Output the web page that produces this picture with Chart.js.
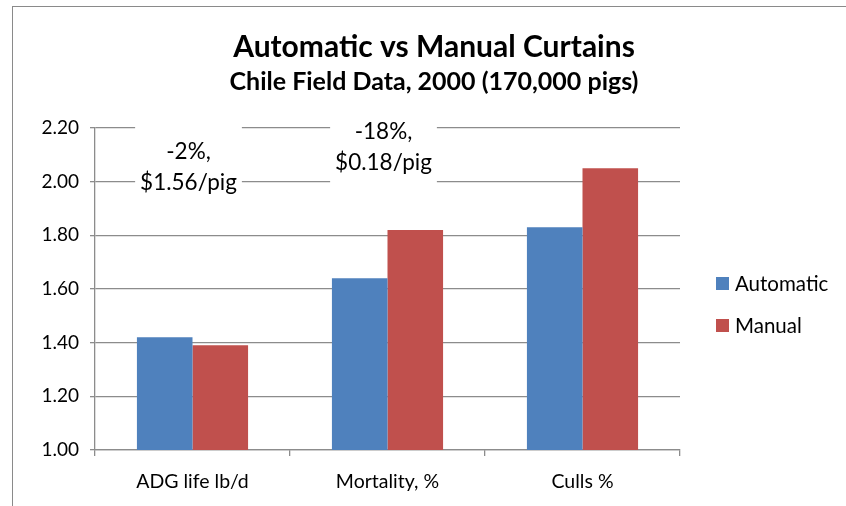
<!DOCTYPE html>
<html>
<head>
<meta charset="utf-8">
<script src="https://cdn.jsdelivr.net/npm/chart.js@4.4.1/dist/chart.umd.min.js"></script>
<style>
    html, body { margin: 0; padding: 0; background: #fff; overflow: hidden; }
    #moldura {
        position: absolute; left: 12px; top: 6px; width: 860px; height: 520px;
        border-left: 1px solid #8a8a8a; border-top: 1px solid #8a8a8a;
    }
    #grafico { position: absolute; left: 0; top: 0; }
</style>
</head>
<body>
<div id="moldura">
    <canvas id="grafico" width="842" height="500"></canvas>
</div>
<script>
const categorias = ['ADG life lb/d', 'Mortality, %', 'Culls %'];
const automatico = [1.42, 1.64, 1.83];
const manual = [1.39, 1.82, 2.05];
const eixoMin = 1.0;
const eixoMax = 2.2;
const eixoPasso = 0.2;
const notas = [['-2%,', '$1.56/pig'], ['-18%,', '$0.18/pig']];

const corAzul = '#4f81bd';
const corVermelha = '#c0504d';
const corGrade = '#8c8c8c';

Chart.defaults.font.family = 'Lato';
Chart.defaults.color = '#000';

// caixas de texto brancas sobre a grade
const notasPlugin = {
    id: 'notas',
    afterDatasetsDraw(chart) {
        const { ctx, scales: { x, y } } = chart;
        const alturas = [2.11, 2.185];
        ctx.save();
        ctx.font = '22.5px Lato';
        ctx.textAlign = 'center';
        ctx.textBaseline = 'middle';
        notas.forEach((linhas, i) => {
            const cx = x.getPixelForValue(i) - 4;
            const cy = y.getPixelForValue(alturas[i]);
            const larg = Math.max(...linhas.map(l => ctx.measureText(l).width));
            const passo = 30.5;
            ctx.fillStyle = '#fff';
            ctx.fillRect(cx - larg / 2 - 5, cy - 26, larg + 10, passo * (linhas.length - 1) + 52);
            ctx.fillStyle = '#000';
            linhas.forEach((l, k) => ctx.fillText(l, cx, cy + k * passo));
        });
        ctx.restore();
    }
};

// legenda à direita, no estilo do Excel
const legendaPlugin = {
    id: 'legenda',
    afterDraw(chart) {
        const { ctx, chartArea } = chart;
        ctx.save();
        ctx.font = '20.5px Lato';
        ctx.textBaseline = 'middle';
        chart.data.datasets.forEach((ds, i) => {
            const yy = 277 + i * 42;
            ctx.fillStyle = ds.backgroundColor;
            ctx.fillRect(chartArea.right + 36, yy - 7, 13, 13);
            ctx.fillStyle = '#000';
            ctx.fillText(ds.label, chartArea.right + 55, yy);
        });
        ctx.restore();
    }
};

const ctx = document.getElementById('grafico').getContext('2d');

new Chart(ctx, {
    type: 'bar',
    data: {
        labels: categorias,
        datasets: [
            { label: 'Automatic', data: automatico, backgroundColor: corAzul, categoryPercentage: 0.57, barPercentage: 1 },
            { label: 'Manual', data: manual, backgroundColor: corVermelha, categoryPercentage: 0.57, barPercentage: 1 }
        ]
    },
    options: {
        responsive: false,
        animation: false,
        layout: { padding: 0 },
        plugins: {
            legend: { display: false },
            tooltip: { enabled: false },
            title: {
                display: true,
                text: 'Automatic vs Manual Curtains',
                font: { size: 30, weight: 'bold' },
                padding: { top: 22, bottom: 2 }
            },
            subtitle: {
                display: true,
                text: 'Chile Field Data, 2000 (170,000 pigs)',
                color: '#000',
                font: { size: 25, weight: 'bold' },
                padding: { top: 0, bottom: 31 }
            }
        },
        scales: {
            x: {
                grid: { drawOnChartArea: false, color: corGrade, lineWidth: 1.3, tickLength: 6 },
                border: { color: corGrade, width: 1.3 },
                ticks: { font: { size: 19.5 }, padding: 14 },
                afterFit: s => { s.height = 57; }
            },
            y: {
                min: eixoMin,
                max: eixoMax,
                grid: { color: corGrade, lineWidth: 1.3, tickLength: 5 },
                border: { color: corGrade, width: 1.3 },
                ticks: {
                    stepSize: eixoPasso,
                    font: { size: 19 },
                    padding: 11,
                    callback: v => v.toFixed(2)
                },
                afterFit: s => { s.width = 82; }
            },
            y2: {
                position: 'right',
                grid: { display: false },
                border: { display: false },
                ticks: { display: false },
                afterFit: s => { s.width = 175; }
            }
        }
    },
    plugins: [notasPlugin, legendaPlugin]
});
</script>
</body>
</html>
